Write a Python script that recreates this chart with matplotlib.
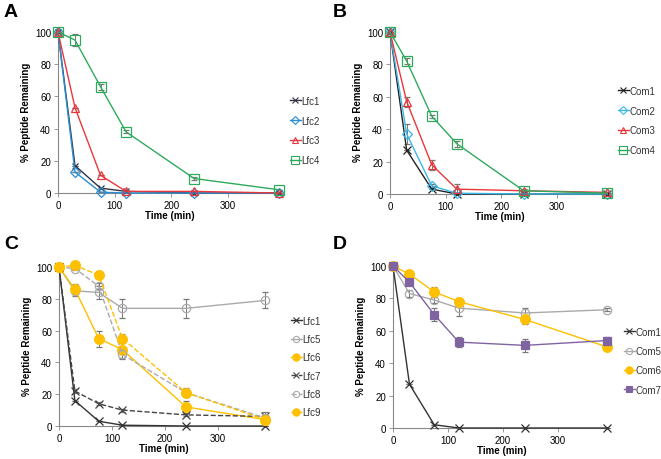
import numpy as np
import matplotlib
matplotlib.use("Agg")
import matplotlib.pyplot as plt
from matplotlib.lines import Line2D

plt.rcParams['font.family'] = ['Liberation Sans', 'DejaVu Sans']

t = [0, 30, 75, 120, 240, 390]
xticks = [0, 100, 200, 300]
yticks = [0, 20, 40, 60, 80, 100]

# panel A
lfc1_a = [100, 17, 3, 1, 0, 0]
lfc2_a = [100, 13, 0.5, 0, 0, 0]
lfc3_a = [100, 53, 11, 1, 1, 0]
lfc4_a = [100, 95, 66, 38, 9, 2]
lfc4_a_err = [0, 4, 2, 1, 1, 0]

# panel B
com1_b = [100, 27, 3, 0, 0, 0]
com2_b = [100, 37, 5, 0.5, 0, 0]
com2_b_err = [0, 6, 1, 0, 0, 0]
com3_b = [100, 57, 18, 3, 2, 1]
com3_b_err = [0, 3, 3, 3, 0, 0]
com4_b = [100, 82, 48, 31, 2, 0.5]
com4_b_err = [0, 2, 1, 2, 1, 0]

# panel C
lfc1_c = [100, 16, 3, 0.5, 0, 0]
lfc5_c = [100, 85, 84, 74, 74, 79]
lfc5_c_err = [0, 3, 4, 6, 6, 5]
lfc6_c = [100, 86, 55, 48, 12, 4]
lfc6_c_err = [0, 3, 5, 5, 4, 2]
lfc7_c = [100, 22, 14, 10, 7, 6]
lfc7_c_err = [0, 1, 1, 1, 1, 3]
lfc8_c = [100, 99, 88, 45, 21, 5]
lfc8_c_err = [0, 1, 2, 3, 2, 2]
lfc9_c = [100, 101, 95, 55, 21, 4]
lfc9_c_err = [0, 1, 1, 3, 3, 2]

# panel D
com1_d = [100, 27, 2, 0, 0, 0]
com5_d = [100, 83, 79, 74, 71, 73]
com5_d_err = [0, 2, 2, 5, 3, 1]
com6_d = [100, 95, 84, 78, 67, 50]
com6_d_err = [0, 1, 3, 2, 3, 1]
com7_d = [100, 90, 70, 53, 51, 54]
com7_d_err = [0, 2, 4, 3, 4, 2]

W, H = 661, 460
fig = plt.figure(figsize=(W / 100, H / 100), dpi=100)


def make_ax(x0, x1, ytop100, ybot):
    # pixel box -> figure fraction
    ppu = (ybot - ytop100) / 100.0
    top = ytop100 - 2 * ppu
    ax = fig.add_axes([x0 / W, 1 - ybot / H, (x1 - x0) / W, (ybot - top) / H])
    ax._handles = []
    return ax


def style(ax, letter, lx, ly):
    ax.set_xlim(0, 395)
    ax.set_ylim(0, 102)
    ax.set_xticks(xticks)
    ax.set_yticks(yticks)
    for s in ['top', 'right']:
        ax.spines[s].set_visible(False)
    for s in ['left', 'bottom']:
        ax.spines[s].set_color('#888888')
        ax.spines[s].set_linewidth(0.8)
    ax.tick_params(labelsize=7, length=3, width=0.6, color='#888888', pad=2)
    ax.set_xlabel('Time (min)', fontsize=7, fontweight='bold', labelpad=0)
    ax.set_ylabel('% Peptide Remaining', fontsize=7, fontweight='bold', labelpad=3)
    fig.text(lx / W, 1 - ly / H, letter, fontsize=14, fontweight='bold',
             va='top', ha='left')


def series(ax, y, err, color, marker, label, ls='-', mfc='none', ms=6):
    ax.errorbar(t, y, yerr=err, color=color, marker=marker, ls=ls, lw=1,
                mfc=mfc, mec=color, ms=ms, mew=0.9,
                ecolor='#777777', elinewidth=0.7, capsize=2,
                clip_on=False, zorder=3)
    ax._handles.append(Line2D([], [], color=color, marker=marker, ls=ls, lw=1,
                              mfc=mfc, mec=color, ms=ms * 0.75, mew=0.8,
                              label=label))


def legend(ax, x, y, spacing):
    ax.legend(handles=ax._handles, loc='upper left',
              bbox_to_anchor=(x / W, 1 - y / H),
              bbox_transform=fig.transFigure, frameon=False, fontsize=7,
              handlelength=1.1, handletextpad=0.1, labelspacing=spacing,
              borderpad=0, labelcolor='#333333')


zero = [0] * 6

axA = make_ax(58, 282, 33, 194)
series(axA, lfc1_a, zero, '#333344', 'x', 'Lfc1', ms=5)
series(axA, lfc2_a, zero, '#2a8fd0', 'D', 'Lfc2', ms=5)
series(axA, lfc3_a, zero, '#e8383d', '^', 'Lfc3', ms=6)
series(axA, lfc4_a, lfc4_a_err, '#2eaa5c', 's', 'Lfc4', ms=7)
style(axA, 'A', 4, 4)
legend(axA, 285, 92, 1.0)

axB = make_ax(390, 610, 33, 195)
series(axB, com1_b, zero, '#222222', 'x', 'Com1', ms=6)
series(axB, com2_b, com2_b_err, '#3bb8e8', 'D', 'Com2', ms=5)
series(axB, com3_b, com3_b_err, '#e8383d', '^', 'Com3', ms=6)
series(axB, com4_b, com4_b_err, '#2eaa5c', 's', 'Com4', ms=7)
style(axB, 'B', 333, 4)
legend(axB, 613, 82, 1.0)

axC = make_ax(59, 268, 268, 427)
series(axC, lfc1_c, zero, '#333333', 'x', 'Lfc1', ms=6)
series(axC, lfc5_c, lfc5_c_err, '#aaaaaa', 'o', 'Lfc5', ms=6)
series(axC, lfc6_c, lfc6_c_err, '#ffc000', 'o', 'Lfc6', mfc='#ffc000', ms=7)
series(axC, lfc7_c, lfc7_c_err, '#444444', 'x', 'Lfc7', ls='--', ms=6)
series(axC, lfc8_c, lfc8_c_err, '#aaaaaa', 'o', 'Lfc8', ls='--', ms=6)
series(axC, lfc9_c, lfc9_c_err, '#ffc000', 'o', 'Lfc9', ls='--', mfc='#ffc000', ms=7)
style(axC, 'C', 4, 236)
legend(axC, 286, 312, 0.85)

axD = make_ax(393, 610, 267, 429)
series(axD, com1_d, zero, '#333333', 'x', 'Com1', ms=6)
series(axD, com5_d, com5_d_err, '#aaaaaa', 'o', 'Com5', ms=6)
series(axD, com6_d, com6_d_err, '#ffc000', 'o', 'Com6', mfc='#ffc000', ms=7)
series(axD, com7_d, com7_d_err, '#8064a2', 's', 'Com7', mfc='#8064a2', ms=6)
style(axD, 'D', 333, 236)
legend(axD, 619, 323, 0.95)

fig.savefig('out.png', dpi=100)
